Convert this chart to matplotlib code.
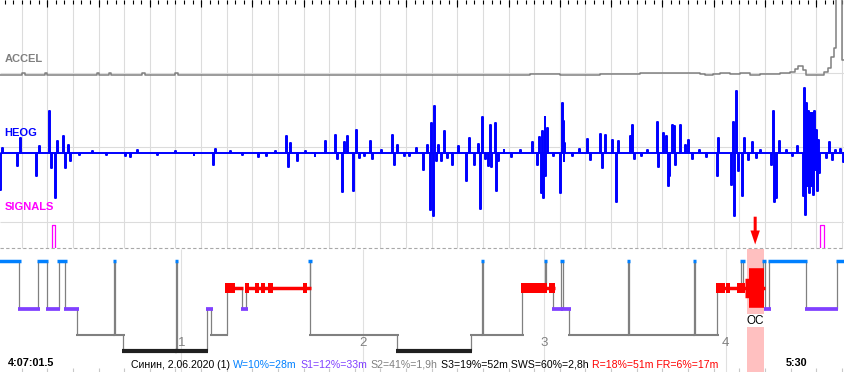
import numpy as np
import matplotlib.pyplot as plt
from matplotlib.patches import Rectangle

# ---- data (time in minutes from record start) ----
rec_len = 279.4

stage_t = [0.0, 6.4, 12.7, 15.6, 19.4, 21.6, 25.6, 37.7, 37.9, 40.8,
           58.2, 58.4, 68.4, 69.9, 75.0, 80.1, 81.5, 102.4, 102.6, 131.4,
           155.7, 159.4, 159.6, 172.7, 180.3, 180.5, 183.0, 185.6, 186.0, 188.3,
           207.7, 207.9, 229.5, 229.7, 237.2, 245.1, 245.8, 252.4, 252.9, 254.4,
           266.6, 276.7]
stage_s = ['W', 'S1', 'W', 'S1', 'W', 'S1', 'S2', 'W', 'S2', 'S3',
           'W', 'S3', 'S1', 'S2', 'R', 'S1', 'R', 'W', 'S2', 'S3',
           'S2', 'W', 'S2', 'R', 'W', 'R', 'S1', 'W', 'S1', 'S2',
           'W', 'S2', 'W', 'S2', 'R', 'W', 'R', 'W', 'S1', 'W',
           'S1', 'W']

# REM bursts (thicker red bar), level 2..4
rem_t0 = [74.5, 81.0, 84.3, 86.3, 88.5, 100.1, 172.3, 181.6, 236.8, 240.1, 243.7, 246.4, 247.7]
rem_t1 = [77.6, 82.3, 85.7, 87.6, 90.3, 101.6, 180.9, 183.5, 239.8, 241.4, 246.4, 247.7, 252.6]
rem_lvl = [2, 2, 2, 2, 2, 2, 2, 2, 2, 2, 2, 3, 4]

accel_t = [0, 7.3, 8.3, 15.0, 15.5, 32.0, 32.6, 36.0, 36.7, 47.0, 47.8, 57.9, 58.9,
           175.3, 185.2, 198.4, 211.6, 231.5, 233.1, 235.8, 238.1, 241.4, 244.7,
           248.0, 251.3, 254.6, 257.9, 261.2, 262.9, 263.9, 265.5, 266.5,
           272.5, 273.8, 274.8, 275.6, 276.5, 278.3]
accel_v = [0, 2, 0, 2, 0, 2, 0, 2, 0, 2, 0, 2, 0,
           1, 0, 1, 2, 1, 0, 1, 2, 1, 2,
           0, 1, 1, 2, 3, 6, 9, 5, 0,
           3, 7, 18, 27, 80, 15]

heog_t = [0.0, 0.7, 5.5, 6.6, 11.9, 13.0, 16.2, 16.9, 18.1, 18.9, 20.7, 21.5, 22.6, 23.1,
          26.0, 30.5, 35.0, 41.3, 43.0, 45.3, 52.0, 58.0, 64.0, 70.4, 71.1, 76.0, 80.0,
          85.3, 88.0, 91.0, 94.7, 95.2, 96.0, 98.1, 101.0, 104.0, 107.5, 110.9, 111.4,
          113.2, 113.9, 114.8, 116.6, 117.8, 118.7, 120.5, 122.3, 123.0, 126.0, 129.6,
          130.3, 131.2, 133.5, 135.3, 137.6, 139.9, 141.1, 142.3, 142.6, 143.3, 143.6,
          144.2, 144.8, 145.8, 146.9, 147.8, 149.6, 151.5, 154.1, 155.0, 156.8, 158.1,
          158.8, 159.5, 160.4, 161.4, 161.9, 162.4, 163.6, 164.0, 164.7, 166.5, 169.0,
          172.0, 175.9, 177.6, 178.2, 179.0, 179.2, 179.7, 180.1, 180.3, 180.9, 183.0,
          185.1, 185.9, 186.2, 186.4, 186.6, 189.0, 191.5, 194.1, 195.1, 198.5, 199.0,
          200.1, 202.4, 203.7, 204.3, 208.3, 209.1, 209.7, 212.0, 214.0, 217.3, 217.6,
          219.3, 220.2, 220.9, 221.2, 222.3, 223.0, 223.3, 224.8, 226.6, 227.5, 228.8,
          231.0, 233.5, 237.0, 237.3, 241.7, 242.5, 242.8, 243.3, 244.0, 245.3, 246.0,
          247.3, 248.7, 250.0, 251.3, 254.8, 255.7, 256.0, 256.6, 257.7, 259.9, 262.0,
          263.6, 265.4, 265.8, 266.2, 266.5, 266.9, 267.2, 267.5, 267.9, 268.2, 268.5,
          268.8, 269.2, 269.5, 269.8, 270.2, 270.5, 270.8, 273.2, 274.2, 275.1, 276.0,
          277.8, 278.7]
heog_v = [-37, 5, -13, 15, -23, 7, 42, -15, -45, 12, 17, -15, 8, -8,
          -2, 2, -2, -3, -4, 3, -2, 2, -2, -12, 4, 2, -2,
          -4, -3, 2, 17, -14, 10, -8, 2, -3, 12, 18, -6,
          -39, 11, 17, -38, 23, -5, -3, 12, -6, 3, 18,
          -12, 8, -3, -3, 5, -17, 8, -57, 30, -63, 47,
          -8, 8, -8, 22, -5, -12, 7, -28, 15, -12, 9,
          -56, 36, -6, -13, 28, -14, 30, -38, -8, 3, -4,
          3, 11, -12, 16, -40, 22, -45, 36, -23, 25, -3,
          -40, 50, 32, -8, 10, -3, 4, 14, -7, 19, -15,
          18, 13, -49, 12, 17, 28, -6, -3, 3, 31, -14,
          20, 17, -33, -23, 28, 27, -12, 28, 8, 13, -6,
          3, -4, -23, 15, -32, 31, -63, 62, -18, -43, 15,
          -7, 11, -5, 3, -12, 42, -49, -45, 12, 3, -3,
          7, -43, 65, -62, 50, -33, 42, -40, 40, -33, 40,
          -42, 42, -17, 23, -38, 13, -20, -5, 11, -7, 3,
          4, -9]

sig_t0 = [17.1, 271.2]
sig_t1 = [18.2, 272.4]

oc_t0, oc_t1 = 247.1, 252.6
arrow_t = 249.7
hours = [1, 2, 3, 4]

start_label = '4:07:01.5'
end_label = '5:30'
stats = [('Синин, 2.06.2020 (1)', 'black'),
         ('W=10%=28m', '#0080ff'),
         ('S1=12%=33m', '#8040ff'),
         ('S2=41%=1,9h', '#808080'),
         ('S3=19%=52m SWS=60%=2,8h', 'black'),
         ('R=18%=51m FR=6%=17m', '#ff0000')]

# ---- layout ----
W, H = 845, 372
fig = plt.figure(figsize=(W / 100, H / 100), dpi=100)
fig.patch.set_facecolor('white')


def band(top, bottom):
    ax = fig.add_axes([0, 1 - bottom / H, 1, (bottom - top) / H])
    ax.set_xlim(0, rec_len)
    ax.axis('off')
    return ax


bg = band(0, H)
bg.set_ylim(H, 0)

step = 8.474
grid = np.arange(7.166, rec_len, step)
sub = np.arange(grid[0] - 2 * step / 3, rec_len, step / 3)
bg.add_patch(Rectangle((oc_t0, 248.5), oc_t1 - oc_t0, 124, color='#ffc0c0', lw=0, zorder=0.5))
bg.vlines(grid, 0, 247.5, color='#dcdcdc', lw=0.8)
bg.hlines([73.3, 147.3, 221.7], 0, rec_len, color='#dcdcdc', lw=0.8)
bg.plot([0, rec_len], [247.7, 247.7], color='#a8a8a8', lw=0.8, dashes=(3, 2.1))
bg.vlines(sub, 0, 4, color='black', lw=0.8)
bg.vlines(grid[1::2], 0, 7, color='black', lw=0.8)
bg.vlines(grid, 368, 372, color='#c8c8c8', lw=0.8)
bg.vlines([h * 60 for h in hours], 248.5, 372, color='#e0e0e0', lw=0.8)
for h in hours:
    bg.text(h * 60, 343.5, str(h), ha='center', va='center', color='#808080',
            fontsize=9.5, family='Liberation Sans')

bg.add_patch(Rectangle((oc_t0, 314), oc_t1 - oc_t0, 12.7, color='white', lw=0, zorder=3))
bg.text((oc_t0 + oc_t1) / 2, 320.5, 'OC', ha='center', va='center', fontsize=8.5,
        family='Liberation Sans', zorder=4)
bg.arrow(arrow_t, 216.7, 0, 27.8, width=1.0, head_width=3.1, head_length=14,
         length_includes_head=True, color='red', lw=0, zorder=5)

lab = dict(fontsize=8, fontweight='bold', family='Liberation Sans', va='center')
bg.text(1.5, 59.5, 'ACCEL', color='#808080', **lab)
bg.text(1.5, 132.5, 'HEOG', color='#0000ff', **lab)
bg.text(1.5, 206.7, 'SIGNALS', color='#ff00ff', **lab)

# ACCEL
acc = band(0, 95)
acc.set_ylim(-19.7, 75.3)
acc.plot(np.append(accel_t, rec_len), np.append(accel_v, accel_v[-1]),
         drawstyle='steps-post', color='#808080', lw=1.1)

# HEOG
heog = band(80, 222)
heog.set_ylim(-68.7, 73.3)
ht = np.array(heog_t)
hv = np.array(heog_v)
nxt = np.append(ht[1:], rec_len)
back = np.minimum(ht + 0.3, nxt)
xs = np.column_stack([ht, back]).ravel()
ys = np.column_stack([hv, np.zeros_like(hv)]).ravel()
heog.plot(np.append(xs, rec_len), np.append(ys, 0), drawstyle='steps-post',
          color='#0000ff', lw=1.4)

# SIGNALS
sig = band(222, 248)
sig.set_ylim(-0.06, 1.14)
for a, b in zip(sig_t0, sig_t1):
    sig.plot([a, a, b, b], [0, 1, 1, 0], color='#ff00ff', lw=0.9)

# hypnogram
hyp = band(248, H)
hyp.set_ylim(124, 0)
row = {'W': 12.7, 'R': 39.7, 'S1': 60.7, 'S2': 86.7, 'S3': 102.7}
style = {'W': ('#0080ff', 2.5), 'R': ('#ff0000', 2.5), 'S1': ('#8040ff', 2.7),
         'S2': ('#808080', 1.5), 'S3': ('#202020', 3.0)}
pad = 0.4
ends = stage_t[1:] + [rec_len]
for i in range(1, len(stage_t)):
    hyp.vlines(stage_t[i], row[stage_s[i - 1]], row[stage_s[i]], color='#808080',
               lw=0.9, zorder=1)
for t0, t1, s in zip(stage_t, ends, stage_s):
    c, lw = style[s]
    hyp.hlines(row[s], t0 - pad, t1 + pad, color=c, lw=lw, capstyle='butt', zorder=2)
burst_lw = {2: 7.2, 3: 14, 4: 28.5}
for a, b, lv in zip(rem_t0, rem_t1, rem_lvl):
    hyp.hlines(row['R'], a, b, color='#ff0000', lw=burst_lw[lv], capstyle='butt', zorder=3)

# bottom texts
tl = dict(fontsize=7.8, fontweight='bold', family='Liberation Sans', va='center')
fig.text(8 / W, 1 - 363 / H, start_label, **tl)
fig.text(785.3 / W, 1 - 363 / H, end_label, **tl)
fig.canvas.draw()
r = fig.canvas.get_renderer()
x = 130.7
for s, c in stats:
    t = fig.text(x / W, 1 - 364.5 / H, s, color=c, fontsize=7.6,
                 family='Liberation Sans', va='center')
    x += t.get_window_extent(r).width + 3.4

fig.savefig('out.png', dpi=100)
